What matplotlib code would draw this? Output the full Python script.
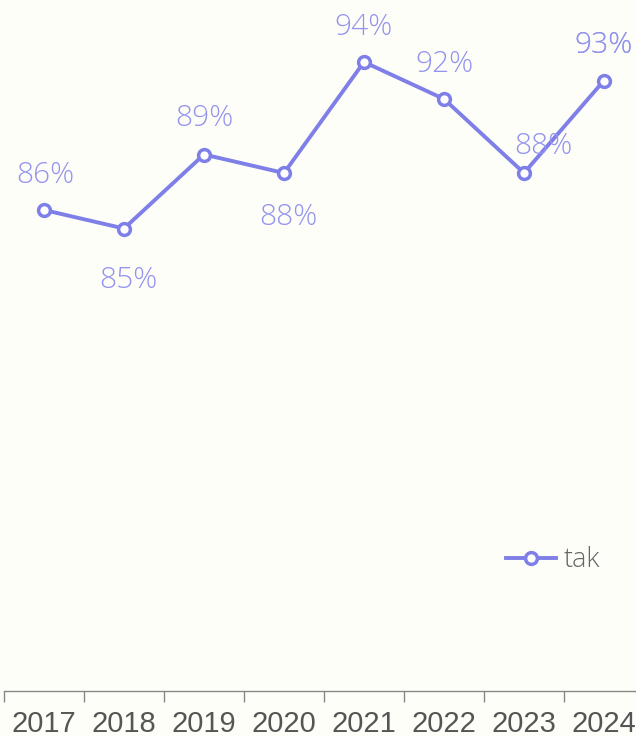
import matplotlib
matplotlib.use("Agg")
import matplotlib.pyplot as plt

years = ["2017", "2018", "2019", "2020", "2021", "2022", "2023", "2024"]
tak = [86, 85, 89, 88, 94, 92, 88, 93]
labels = ["86%", "85%", "89%", "88%", "94%", "92%", "88%", "93%"]
# label placement (dx, dy) in pixels relative to the point
offsets = [(1, 35), (4, -52), (0, 36), (4, -44), (-1, 35), (0, 35), (19, 27), (0, 35)]

bg = "#fefef9"
line_c = "#7f7fe8"
label_c = "#9494ee"

fig = plt.figure(figsize=(6.36, 7.37), dpi=100, facecolor=bg)
ax = fig.add_axes([4 / 636, 46 / 737, 640 / 636, 691 / 737])
ax.set_facecolor(bg)

x = list(range(len(years)))
ax.plot(x, tak, color=line_c, lw=2.8, marker="o", ms=8.5, mfc="white",
        mec=line_c, mew=2.5, label="tak", zorder=3)

for i, (v, lab) in enumerate(zip(tak, labels)):
    dx, dy = offsets[i]
    # last label appears drawn twice in the original (darker)
    reps = 2 if i == len(tak) - 1 else 1
    for _ in range(reps):
        ax.annotate(lab, (i, v), xytext=(dx * 0.72, dy * 0.72), textcoords="offset points",
                    ha="center", va="center", fontsize=21.5, color=label_c,
                    family="Open Sans", fontweight="light", zorder=4)

ax.set_xlim(-0.5, 7.5)
ax.set_ylim(60, 60 + 691 / 18.5)

ax.set_xticks([i - 0.5 for i in range(len(years))], minor=False)
ax.set_xticklabels([])
ax.set_xticks(x, minor=True)
ax.set_xticklabels(years, minor=True, fontsize=21, color="#555555", family="Liberation Sans")
ax.tick_params(axis="x", which="major", length=8, color="#888888", width=1)
ax.tick_params(axis="x", which="minor", length=0, pad=14)
ax.set_yticks([])

for s in ["top", "right", "left"]:
    ax.spines[s].set_visible(False)
ax.spines["bottom"].set_color("#888888")
ax.spines["bottom"].set_linewidth(1)

leg = ax.legend(loc="upper left", bbox_to_anchor=(478 / 640, 1 - 522 / 691), frameon=False,
                handlelength=1.85, handletextpad=0.25,
                prop={"family": "Open Sans", "size": 19.5, "weight": "light"})
for t in leg.get_texts():
    t.set_color("#666666")

fig.savefig("out.png", dpi=100, facecolor=bg)
